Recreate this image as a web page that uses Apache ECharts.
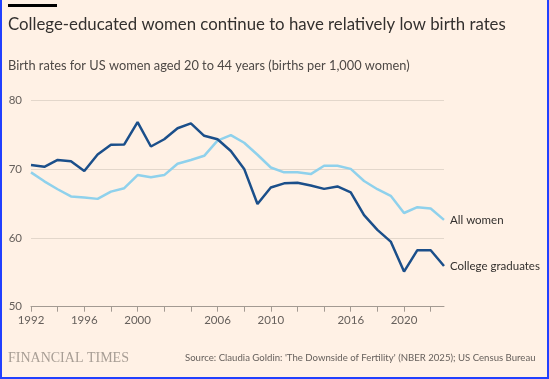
<!DOCTYPE html>
<html>
<head>
<meta charset="utf-8">
<script src="https://cdn.jsdelivr.net/npm/echarts@6/dist/echarts.min.js"></script>
<style>
html,body{margin:0;padding:0;background:#FFF1E5;}
#chart{width:549px;height:379px;}
</style>
</head>
<body>
<div id="chart"></div>
<script>
var years = ['1992','1993','1994','1995','1996','1997','1998','1999','2000','2001','2002','2003','2004','2005','2006','2007','2008','2009','2010','2011','2012','2013','2014','2015','2016','2017','2018','2019','2020','2021','2022','2023'];
var collegeGraduates = [70.55,70.3,71.3,71.1,69.7,72.1,73.5,73.55,76.8,73.25,74.3,75.9,76.6,74.8,74.3,72.6,70.0,64.9,67.3,67.9,68.0,67.6,67.1,67.45,66.6,63.3,61.15,59.45,55.1,58.2,58.2,55.9];
var allWomen = [69.5,68.2,67.05,66.0,65.85,65.65,66.7,67.2,69.1,68.8,69.1,70.75,71.3,71.9,74.1,74.9,73.8,72.05,70.2,69.5,69.5,69.25,70.45,70.45,70.0,68.25,67.05,66.1,63.6,64.45,64.25,62.6];
var xTickLabels = ['1992','1996','2000','2006','2010','2016','2020'];
var yTicks = [50,60,70,80];

var chart = echarts.init(document.getElementById('chart'));
var sans = 'Lato, "Open Sans", sans-serif';
var border = '#2140ff';
chart.setOption({
  backgroundColor: '#FFF1E5',
  animation: false,
  grid: {left: 31, top: 100, width: 413, height: 206.7, containLabel: false},
  xAxis: {
    type: 'category', data: years, boundaryGap: false,
    axisLine: {show: true, lineStyle: {color: '#a39a92', width: 1}},
    axisTick: {show: true, length: 5, lineStyle: {color: '#a39a92'}, interval: function (i) { return i % 2 === 0; }},
    axisLabel: {
      color: '#66605c', fontSize: 11.5, fontFamily: sans, margin: 8,
      interval: function (i, v) { return xTickLabels.indexOf(v) >= 0; }
    },
    splitLine: {show: false}
  },
  yAxis: {
    type: 'value', min: yTicks[0], max: yTicks[yTicks.length - 1], interval: 10,
    axisLine: {show: false}, axisTick: {show: false},
    axisLabel: {color: '#66605c', fontSize: 11.5, fontFamily: sans, margin: 9},
    splitLine: {show: true, lineStyle: {color: '#e3d7cb', width: 1}}
  },
  series: [
    {
      name: 'All women', type: 'line', data: allWomen, symbol: 'none',
      lineStyle: {color: '#8fd1ec', width: 2.5}, z: 2,
      endLabel: {show: true, formatter: '{a}', distance: 6, color: '#33302e', fontSize: 11.5, fontFamily: sans}
    },
    {
      name: 'College graduates', type: 'line', data: collegeGraduates, symbol: 'none',
      lineStyle: {color: '#1b4f8a', width: 2.5}, z: 3,
      endLabel: {show: true, formatter: '{a}', distance: 6, color: '#33302e', fontSize: 11.5, fontFamily: sans}
    }
  ],
  graphic: [
    {type: 'rect', shape: {x: 8, y: 4, width: 49, height: 3}, style: {fill: '#000'}},
    {type: 'text', x: 8, y: 25, style: {text: 'College-educated women continue to have relatively low birth rates', font: '16.8px ' + sans, fill: '#33302e', verticalAlign: 'middle'}},
    {type: 'text', x: 8, y: 66, style: {text: 'Birth rates for US women aged 20 to 44 years (births per 1,000 women)', font: '12.8px ' + sans, fill: '#4d4845', verticalAlign: 'middle'}},
    {type: 'text', x: 8, y: 358, style: {text: 'FINANCIAL TIMES', font: '14px "Liberation Serif", serif', fill: '#a89e95', verticalAlign: 'middle'}},
    {type: 'text', x: 185, y: 358, style: {text: "Source: Claudia Goldin: 'The Downside of Fertility' (NBER 2025); US Census Bureau", font: '9.6px ' + sans, fill: '#66605c', verticalAlign: 'middle'}},
    {type: 'rect', z: 100, shape: {x: 0, y: 0, width: 2, height: 379}, style: {fill: border}},
    {type: 'rect', z: 100, shape: {x: 547, y: 0, width: 2, height: 379}, style: {fill: border}},
    {type: 'rect', z: 100, shape: {x: 0, y: 377, width: 549, height: 2}, style: {fill: border}}
  ]
});
</script>
</body>
</html>
